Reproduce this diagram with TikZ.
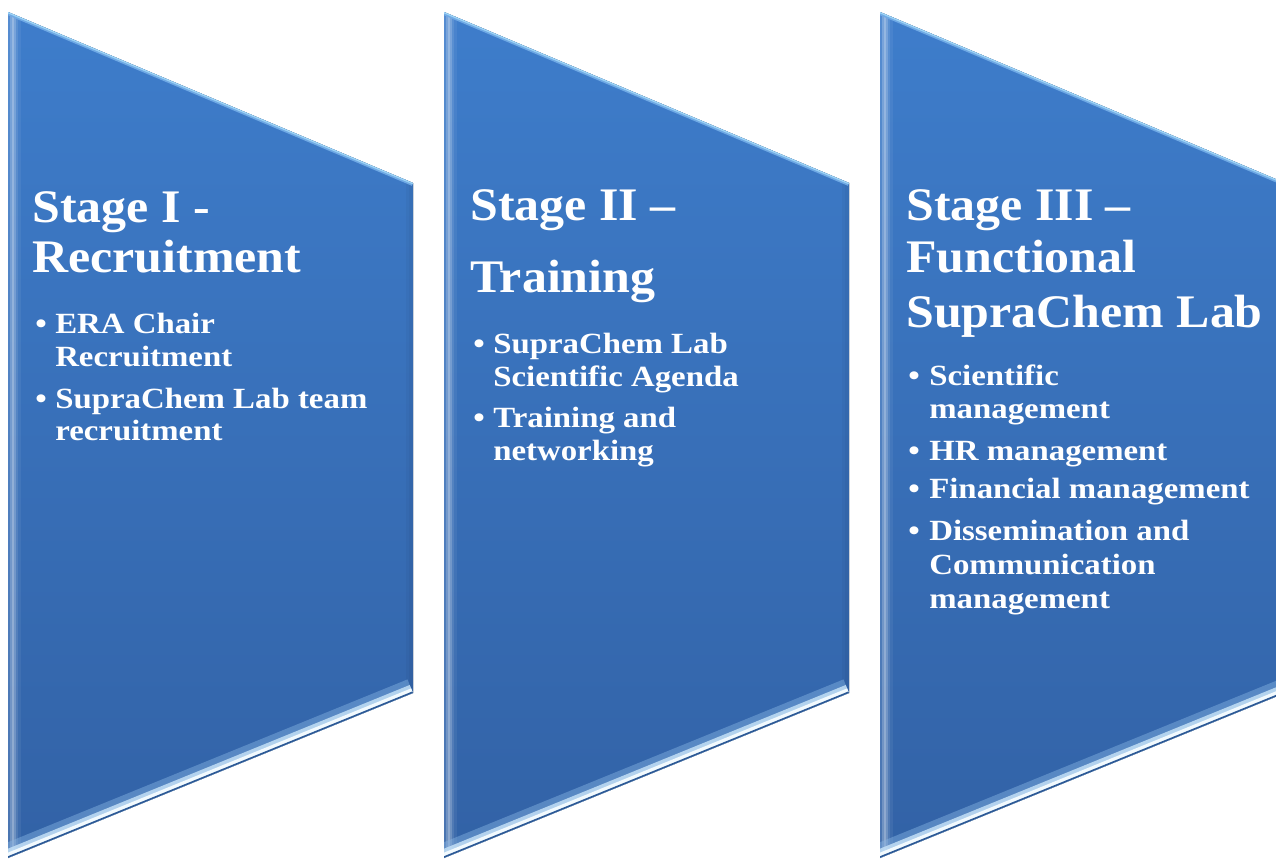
\documentclass[tikz,border=0pt]{standalone}
\usepackage{fontspec}
\newfontfamily\headfont{Liberation Serif}[FakeStretch=1.07]
\newfontfamily\itemfont{Liberation Serif}[FakeStretch=1.12]
\definecolor{paneltop}{HTML}{3E7DCB}
\definecolor{panelbottom}{HTML}{3262A6}
\definecolor{topglow}{HTML}{6FA9E5}
\definecolor{toprim}{HTML}{9DD3F5}
\definecolor{lowsoft}{HTML}{86B4E3}
\definecolor{lowlight}{HTML}{C4E0F6}
\definecolor{lowwhite}{HTML}{F2FAFE}
\definecolor{lowrim}{HTML}{2C5996}
\tikzset{
  x=0.75pt, y=-0.75pt,
  heading/.style={anchor=base west, inner sep=0pt, text=white,
    font=\headfont\fontsize{35}{42}\selectfont\bfseries},
  item/.style={anchor=base west, inner sep=0pt, text=white,
    font=\itemfont\fontsize{22}{28}\selectfont\bfseries},
}
% one bevelled chevron panel; #1 is its left edge
\newcommand\stagepanel[1]{%
  \begin{scope}[shift={(#1,0)}]
    \fill[top color=paneltop, bottom color=panelbottom]
      (0,12) -- (405,183) -- (405,693) -- (0,858) -- cycle;
    \begin{scope}
      \clip (0,12) -- (405,183) -- (405,693) -- (0,858) -- cycle;
      % left bevel: soft light ridge
      \fill[white, opacity=0.12] (0,0) rectangle (1.5,870);
      \fill[white, opacity=0.30] (1.5,0) rectangle (3.5,870);
      \fill[white, opacity=0.45] (3.5,0) rectangle (6,870);
      \fill[white, opacity=0.30] (6,0) rectangle (8,870);
      \fill[white, opacity=0.15] (8,0) rectangle (10,870);
      \fill[white, opacity=0.06] (10,0) rectangle (13,870);
      % right bevel
      \fill[black, opacity=0.03] (398,150) rectangle (405,720);
      \fill[black, opacity=0.03] (401,150) rectangle (405,720);
      % top bevel
      \draw[topglow, line width=4.5pt] (0,12) -- (405,183);
      \draw[toprim, line width=2pt] (0,12) -- (405,183);
      % bottom bevel
      \draw[lowsoft, opacity=0.45, line width=22pt] (0,858) -- (405,693);
      \draw[lowlight, opacity=0.85, line width=13pt] (0,858) -- (405,693);
      \draw[lowwhite, line width=7.5pt] (0,858) -- (405,693);
      \draw[lowrim, line width=2.5pt] (0,858) -- (405,693);
    \end{scope}
  \end{scope}}
\begin{document}
\begin{tikzpicture}
\useasboundingbox (0,0) rectangle (1276,860);
\stagepanel{8}
\stagepanel{444}
\stagepanel{880}

% Stage I
\node[heading] (s1a) at (32,222) {Stage I -};
\node[heading] (s1b) at (32,272) {Recruitment};
\node[item] (b1a) at (35,333) {•};
\node[item] (s1c) at (55,333) {ERA Chair};
\node[item] (s1d) at (55,366) {Recruitment};
\node[item] (b1b) at (35,408) {•};
\node[item] (s1e) at (55,408) {SupraChem Lab team};
\node[item] (s1f) at (55,440) {recruitment};

% Stage II
\node[heading] (s2a) at (470,220) {Stage II –};
\node[heading] (s2b) at (470,292) {Training};
\node[item] (b2a) at (473,353) {•};
\node[item] (s2c) at (493,353) {SupraChem Lab};
\node[item] (s2d) at (493,386) {Scientific Agenda};
\node[item] (b2b) at (473,427) {•};
\node[item] (s2e) at (493,427) {Training and};
\node[item] (s2f) at (493,460) {networking};

% Stage III
\node[heading] (s3a) at (906,220) {Stage III –};
\node[heading] (s3b) at (906,272) {Functional};
\node[heading] (s3c) at (906,327) {SupraChem Lab};
\node[item] (b3a) at (908,385) {•};
\node[item] (s3d) at (929,385) {Scientific};
\node[item] (s3e) at (929,418) {management};
\node[item] (b3b) at (908,460) {•};
\node[item] (s3f) at (929,460) {HR management};
\node[item] (b3c) at (908,498) {•};
\node[item] (s3g) at (929,498) {Financial management};
\node[item] (b3d) at (908,540) {•};
\node[item] (s3h) at (929,540) {Dissemination and};
\node[item] (s3i) at (929,574) {Communication};
\node[item] (s3j) at (929,608) {management};
\end{tikzpicture}
\end{document}
